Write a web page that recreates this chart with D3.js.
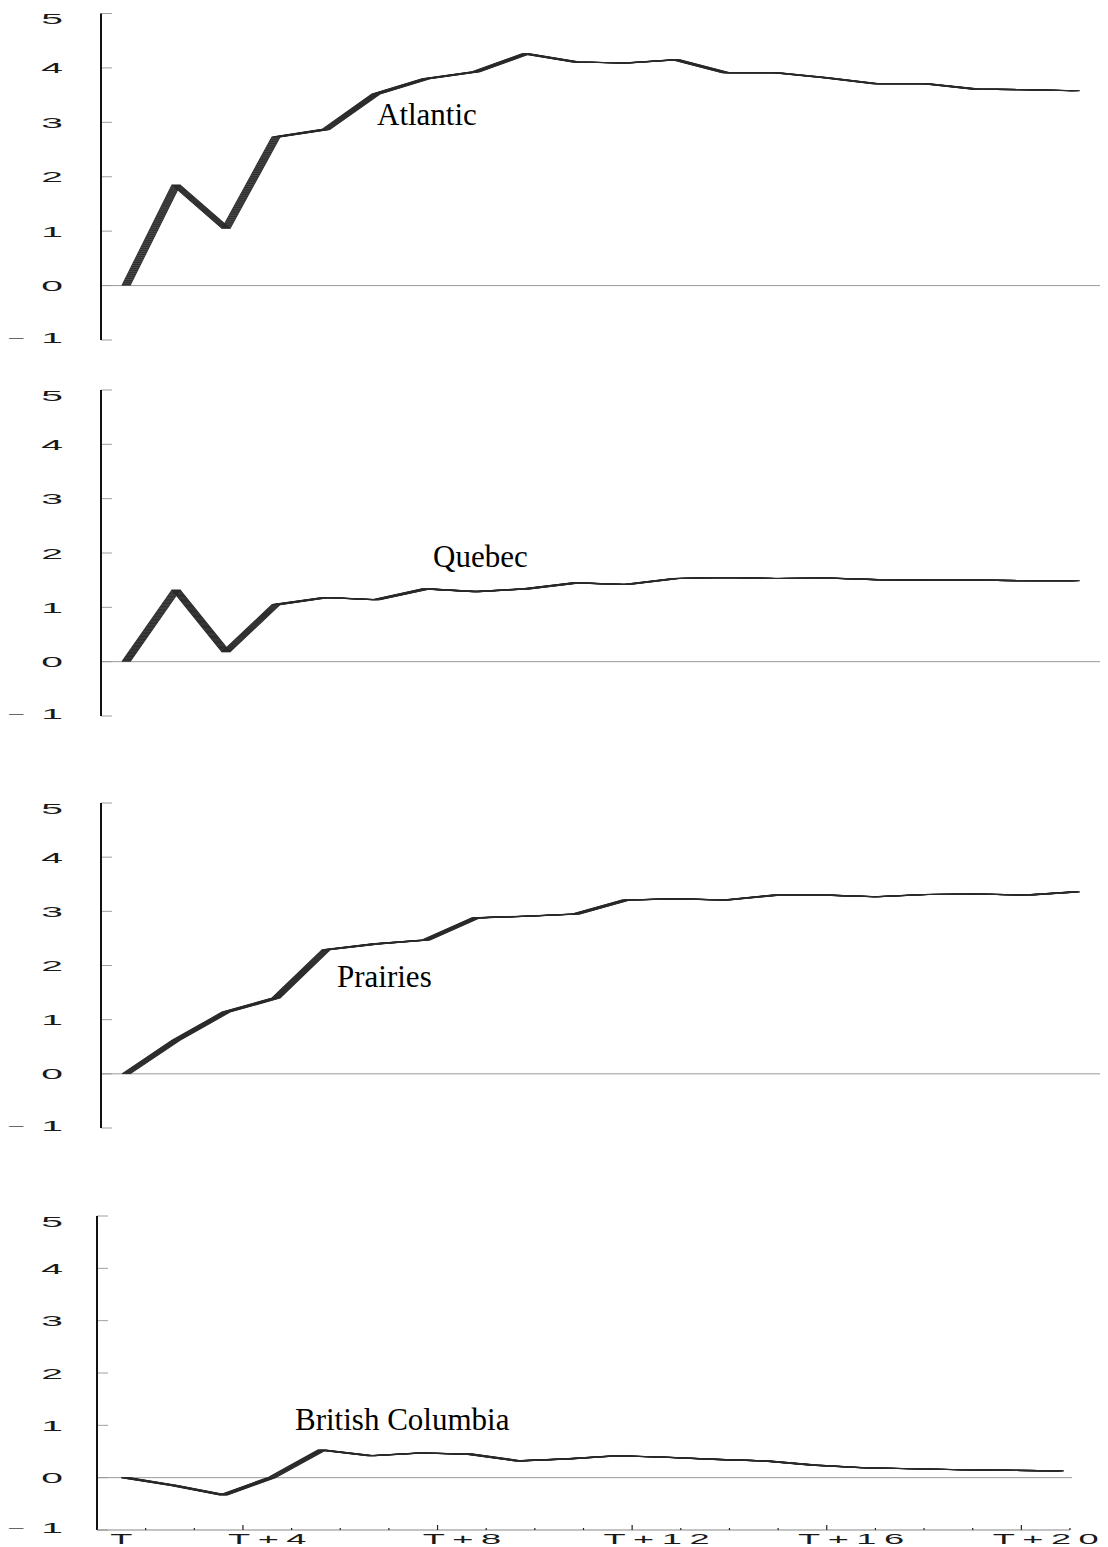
<!DOCTYPE html>
<html>
<head>
<meta charset="utf-8">
<script src="https://cdn.jsdelivr.net/npm/d3@7"></script>
<style>
  body { margin: 0; background: #fff; }
  svg { display: block; }
</style>
</head>
<body>
<svg id="chart" width="1108" height="1547"></svg>
<script>
// Cumulative responses by region, periods T .. T+19
const regions = ["Atlantic", "Quebec", "Prairies", "British Columbia"];
const atlantic = [0, 1.85, 1.05, 2.73, 2.87, 3.52, 3.80, 3.93, 4.26, 4.11, 4.09, 4.15, 3.91, 3.91, 3.82, 3.71, 3.71, 3.61, 3.60, 3.58];
const quebec   = [0, 1.32, 0.18, 1.05, 1.18, 1.14, 1.34, 1.29, 1.34, 1.45, 1.42, 1.53, 1.55, 1.53, 1.54, 1.51, 1.50, 1.50, 1.49, 1.49];
const prairies = [0, 0.62, 1.14, 1.40, 2.29, 2.40, 2.47, 2.88, 2.91, 2.95, 3.21, 3.23, 3.21, 3.30, 3.30, 3.27, 3.31, 3.32, 3.30, 3.36];
const bc       = [0, -0.15, -0.33, 0.01, 0.53, 0.42, 0.47, 0.45, 0.32, 0.36, 0.42, 0.39, 0.35, 0.32, 0.24, 0.19, 0.17, 0.15, 0.14, 0.13];

const yTicks = [-1, 0, 1, 2, 3, 4, 5];
const xTickLabels = ["T", "T+4", "T+8", "T+12", "T+16", "T+20"];
const xLabelSlots = [0, 3, 7, 11, 15, 19];   // interval each label sits in
const xMajorTicks = [3, 7, 11, 15, 19];
const xTickCount = 20;

const series = [atlantic, quebec, prairies, bc];

// panel geometry
const panels = [
  { top: 13.5, bottom: 340, axisX: 101, x0: 122, x1: 1072, zeroEnd: 1100, lx: 377, ly: 125 },
  { top: 390,  bottom: 716, axisX: 101, x0: 122, x1: 1072, zeroEnd: 1100, lx: 433, ly: 567 },
  { top: 803,  bottom: 1128, axisX: 101, x0: 122, x1: 1072, zeroEnd: 1100, lx: 337, ly: 987 },
  { top: 1216, bottom: 1530, axisX: 97, x0: 121, x1: 1056, zeroEnd: 1072, lx: 295, ly: 1430 }
];

const svg = d3.select("#chart");
const SX = 2.6;          // horizontal stretch of axis lettering
const PEN = 8;           // horizontal width of the plotting pen
const FONT_SANS = "Liberation Sans, Arial, sans-serif";

panels.forEach((p, k) => {
  const values = series[k];
  const g = svg.append("g");
  const y = d3.scaleLinear().domain([-1, 5]).range([p.bottom, p.top]);
  const x = d3.scaleLinear().domain([0, values.length - 1]).range([p.x0, p.x1]);

  // y ticks
  g.selectAll("line.ytick").data(yTicks).join("line")
    .attr("x1", p.axisX).attr("x2", p.axisX + 11)
    .attr("y1", d => y(d)).attr("y2", d => y(d))
    .attr("stroke", "#a0a0a0").attr("stroke-width", 1);

  // zero reference line
  g.append("line")
    .attr("x1", p.axisX).attr("x2", p.zeroEnd)
    .attr("y1", y(0)).attr("y2", y(0))
    .attr("stroke", "#999").attr("stroke-width", 1);

  // y axis
  g.append("line")
    .attr("x1", p.axisX).attr("x2", p.axisX)
    .attr("y1", y(5)).attr("y2", y(-1))
    .attr("stroke", "#111").attr("stroke-width", 2);

  // y tick labels, stretched wide
  yTicks.forEach(v => {
    let cy = y(v) + 5.5;
    if (v === 5) cy += 5;
    if (v === -1) cy -= 3;
    const t = g.append("text")
      .attr("transform", `translate(0,${cy}) scale(${SX},1)`)
      .attr("font-family", FONT_SANS)
      .attr("font-size", 15)
      .attr("fill", "#1a1a1a");
    if (v < 0) {
      t.append("tspan").attr("x", 9 / SX).attr("dy", -2)
        .attr("font-size", 10).attr("fill", "#444").text("\u2013");
      t.append("tspan").attr("x", 52 / SX).attr("dy", 2)
        .attr("text-anchor", "middle").text(String(Math.abs(v)));
    } else {
      t.attr("x", 52 / SX).attr("text-anchor", "middle").text(String(v));
    }
  });

  // response line drawn with a wide-nib pen: parallel strokes offset horizontally
  const line = d3.line().x((d, i) => x(i)).y(d => y(d));
  const pen = g.append("g").attr("fill", "none").attr("stroke", "#2a2a2a")
    .attr("stroke-width", 1.1).attr("stroke-linejoin", "round");
  d3.range(0, PEN + 0.01, 1).forEach(dx => {
    pen.append("path").attr("d", line(values)).attr("transform", `translate(${dx},0)`);
  });

  // region label
  g.append("text")
    .attr("x", p.lx).attr("y", p.ly)
    .attr("font-family", "Liberation Serif, Times New Roman, serif")
    .attr("font-size", 31)
    .attr("fill", "#000")
    .text(regions[k]);

  // bottom axis on the last panel
  if (k === panels.length - 1) {
    const xt = d3.scaleLinear().domain([0, xTickCount]).range([p.axisX, 1070]);
    g.append("line")
      .attr("x1", xt(0)).attr("x2", xt(xTickCount))
      .attr("y1", p.bottom).attr("y2", p.bottom)
      .attr("stroke", "#888").attr("stroke-width", 1.2);
    g.selectAll("line.minor").data(d3.range(1, xTickCount + 1)).join("line")
      .attr("x1", d => xt(d)).attr("x2", d => xt(d))
      .attr("y1", p.bottom).attr("y2", d => p.bottom - (xMajorTicks.includes(d) ? 5 : 2))
      .attr("stroke", "#222").attr("stroke-width", 1.2);
    xTickLabels.forEach((lab, i) => {
      const cx = xt(xLabelSlots[i] + 0.5);
      g.append("text")
        .attr("transform", `translate(${cx},${p.bottom + 13.5}) scale(2.5,1)`)
        .attr("text-anchor", "middle")
        .attr("font-family", FONT_SANS)
        .attr("font-size", 14.5)
        .attr("letter-spacing", 3)
        .attr("dx", 1.5)
        .attr("fill", "#1a1a1a")
        .text(lab);
    });
  }
});
</script>
</body>
</html>
